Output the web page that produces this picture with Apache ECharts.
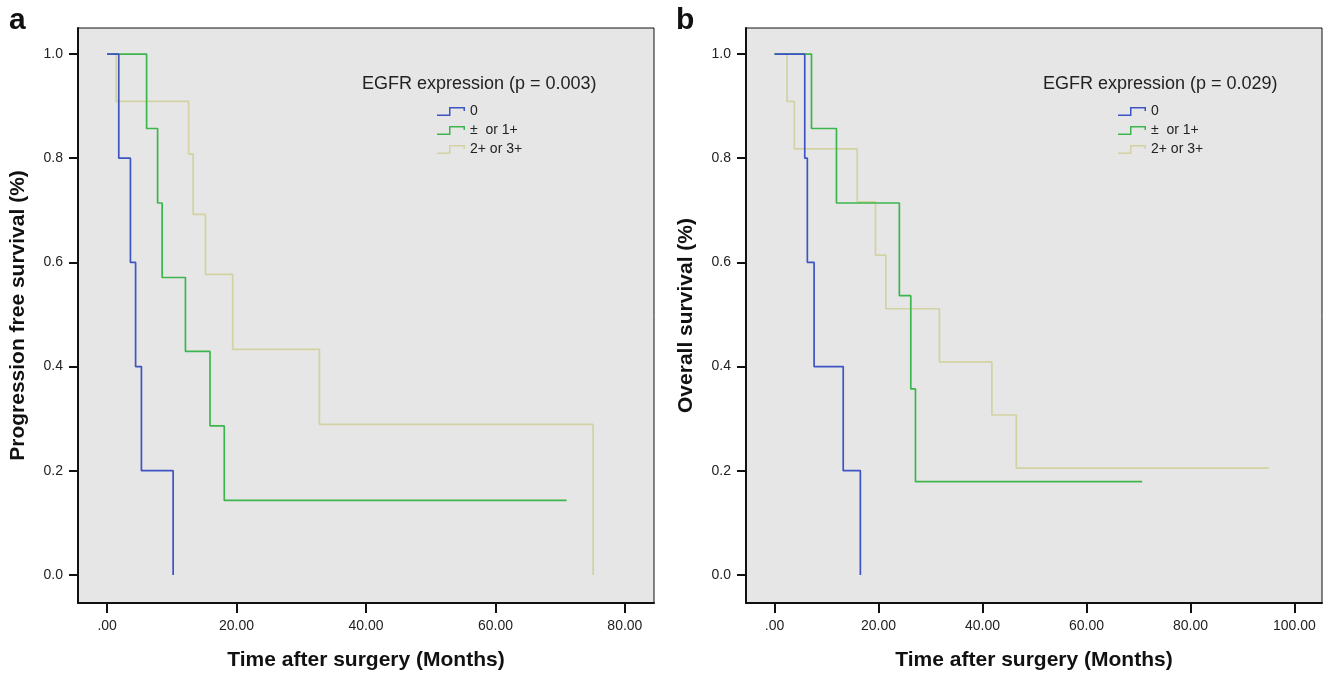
<!DOCTYPE html>
<html>
<head>
<meta charset="utf-8">
<script src="https://cdn.jsdelivr.net/npm/echarts@6/dist/echarts.min.js"></script>
<style>
html,body{margin:0;padding:0;background:#fff;}
#chart{width:1325px;height:676px;}
</style>
</head>
<body>
<div id="chart"></div>
<script>
// ---- Data ----
var groupNames = ['0', '±  or 1+', '2+ or 3+'];
var groupColors = ['#3d54c2', '#3cb64c', '#d2d2a2'];

// Panel a: progression free survival
var pfsTime0 = [0, 1.8, 3.6, 4.4, 5.3, 10.2];
var pfsSurv0 = [1, 0.8, 0.6, 0.4, 0.2, 0];
var pfsTime1 = [0, 6.1, 7.8, 8.5, 12.1, 15.9, 18.1, 71.0];
var pfsSurv1 = [1, 0.857, 0.714, 0.571, 0.429, 0.286, 0.143, 0.143];
var pfsTime2 = [0, 1.4, 12.6, 13.3, 15.2, 19.4, 32.8, 75.1];
var pfsSurv2 = [1, 0.909, 0.808, 0.692, 0.577, 0.433, 0.289, 0];

// Panel b: overall survival
var osTime0 = [0, 5.8, 6.3, 7.6, 13.2, 16.5];
var osSurv0 = [1, 0.8, 0.6, 0.4, 0.2, 0];
var osTime1 = [0, 7.1, 11.9, 24.0, 26.2, 27.1, 70.7];
var osSurv1 = [1, 0.857, 0.714, 0.536, 0.357, 0.179, 0.179];
var osTime2 = [0, 2.4, 3.8, 15.9, 19.4, 21.4, 31.7, 41.8, 46.5, 95.1];
var osSurv2 = [1, 0.909, 0.818, 0.716, 0.614, 0.511, 0.409, 0.307, 0.205, 0.205];

var xTicksA = [0, 20, 40, 60, 80];
var xTicksB = [0, 20, 40, 60, 80, 100];
var yTicks = [0, 0.2, 0.4, 0.6, 0.8, 1.0];

var panelLetters = ['a', 'b'];
var legendTitles = ['EGFR expression (p = 0.003)', 'EGFR expression (p = 0.029)'];
var yNames = ['Progression free survival (%)', 'Overall survival (%)'];
var xName = 'Time after surgery (Months)';

// ---- Build ----
function zip(t, s) { return t.map(function (v, i) { return [v, s[i]]; }); }
var FONT = '"Liberation Sans", Arial, sans-serif';
var stepIcon = 'path://M0,7.5 L12,7.5 L12,0 L28,0 L28,4 L26.5,4 L26.5,1.5 L13.5,1.5 L13.5,9 L0,9 Z';

function xAxisCfg(idx, min, max, ticks) {
  return {
    type: 'value', gridIndex: idx, min: min, max: max,
    name: xName, nameLocation: 'middle', nameGap: 47,
    nameTextStyle: { fontFamily: FONT, fontSize: 21, fontWeight: 'bold', color: '#111' },
    axisLine: { onZero: false, lineStyle: { color: '#111', width: 2 } },
    axisTick: { show: true, length: 10, lineStyle: { color: '#111', width: 2 }, customValues: ticks },
    axisLabel: { margin: 16, fontFamily: FONT, fontSize: 14, color: '#222', customValues: ticks,
      formatter: function (v) { return v === 0 ? '.00' : v.toFixed(2); } },
    splitLine: { show: false }
  };
}
function yAxisCfg(idx, name) {
  return {
    type: 'value', gridIndex: idx, min: -0.054, max: 1.05,
    name: name, nameLocation: 'middle', nameGap: 49,
    nameTextStyle: { fontFamily: FONT, fontSize: 21, fontWeight: 'bold', color: '#111' },
    axisLine: { onZero: false, lineStyle: { color: '#111', width: 2 } },
    axisTick: { show: true, length: 9, lineStyle: { color: '#111', width: 2 }, customValues: yTicks },
    axisLabel: { margin: 15, fontFamily: FONT, fontSize: 14, color: '#222', customValues: yTicks,
      formatter: function (v) { return v.toFixed(1); } },
    splitLine: { show: false }
  };
}
function lineSeries(gi, name, color, data) {
  return {
    type: 'line', name: name, xAxisIndex: gi, yAxisIndex: gi, step: 'end',
    data: data, showSymbol: false, symbol: 'none',
    lineStyle: { color: color, width: 1.7 }, itemStyle: { color: color },
    animation: false, z: 3
  };
}
function legendCfg(left) {
  return {
    orient: 'vertical', left: left, top: 99.5, itemWidth: 28, itemHeight: 9, itemGap: 5,
    textStyle: { fontFamily: FONT, fontSize: 14, color: '#222' }, selectedMode: false,
    data: groupNames.map(function (n, i) { return { name: n, icon: stepIcon, itemStyle: { color: groupColors[i] } }; })
  };
}

var option = {
  animation: false,
  backgroundColor: '#ffffff',
  title: [
    { text: panelLetters[0], left: 4, top: 1, textStyle: { fontFamily: FONT, fontSize: 30, fontWeight: 'bold', color: '#111' } },
    { text: panelLetters[1], left: 671, top: 1, textStyle: { fontFamily: FONT, fontSize: 30, fontWeight: 'bold', color: '#111' } },
    { text: legendTitles[0], left: 357, top: 70, textStyle: { fontFamily: FONT, fontSize: 18, fontWeight: 'normal', color: '#222' } },
    { text: legendTitles[1], left: 1038, top: 70, textStyle: { fontFamily: FONT, fontSize: 18, fontWeight: 'normal', color: '#222' } }
  ],
  legend: [legendCfg(432), legendCfg(1113)],
  grid: [
    { left: 78, top: 28, width: 576, height: 575, show: true, backgroundColor: '#e6e6e6', borderColor: '#111', borderWidth: 1, containLabel: false },
    { left: 746, top: 28, width: 576, height: 575, show: true, backgroundColor: '#e6e6e6', borderColor: '#111', borderWidth: 1, containLabel: false }
  ],
  xAxis: [xAxisCfg(0, -4.5, 84.5, xTicksA), xAxisCfg(1, -5.5, 105.3, xTicksB)],
  yAxis: [yAxisCfg(0, yNames[0]), yAxisCfg(1, yNames[1])],
  series: [
    lineSeries(0, groupNames[2], groupColors[2], zip(pfsTime2, pfsSurv2)),
    lineSeries(0, groupNames[1], groupColors[1], zip(pfsTime1, pfsSurv1)),
    lineSeries(0, groupNames[0], groupColors[0], zip(pfsTime0, pfsSurv0)),
    lineSeries(1, groupNames[2], groupColors[2], zip(osTime2, osSurv2)),
    lineSeries(1, groupNames[1], groupColors[1], zip(osTime1, osSurv1)),
    lineSeries(1, groupNames[0], groupColors[0], zip(osTime0, osSurv0))
  ]
};

var chart = echarts.init(document.getElementById('chart'), null, { renderer: 'canvas' });
chart.setOption(option);
</script>
</body>
</html>
